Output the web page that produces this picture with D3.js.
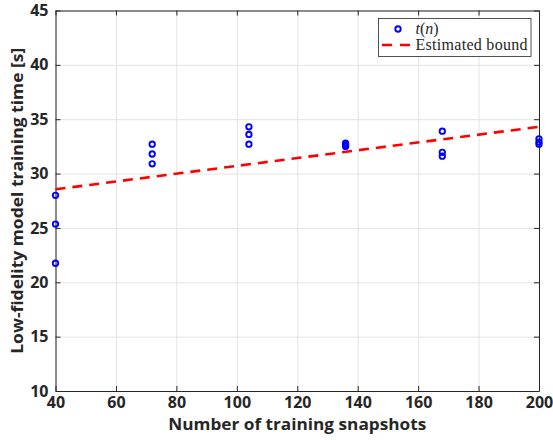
<!DOCTYPE html>
<html>
<head>
<meta charset="utf-8">
<script src="https://cdn.jsdelivr.net/npm/d3@7"></script>
<style>
  body { margin: 0; background: #fff; }
  svg text { font-family: "Open Sans", "Noto Sans", sans-serif; }
</style>
</head>
<body>
<div id="chart"></div>
<script>
// snapshot counts and the three training runs measured at each
const snapshots = [40, 72, 104, 136, 168, 200];
const runTimes = [
  [28.0, 25.35, 21.75],
  [32.7, 31.8, 30.9],
  [34.3, 33.6, 32.7],
  [32.8, 32.65, 32.5],
  [33.9, 31.95, 31.6],
  [33.2, 32.9, 32.7]
];
const boundX = [40, 200];
const boundY = [28.55, 34.3];
const xTicks = [40, 60, 80, 100, 120, 140, 160, 180, 200];
const yTicks = [10, 15, 20, 25, 30, 35, 40, 45];

const W = 553, H = 440;
const margin = { top: 10.5, right: 14, bottom: 49, left: 55.5 };
const plotW = W - margin.left - margin.right;
const plotH = H - margin.top - margin.bottom;
const AXIS = "#262626";
const FS = "16px";

const svg = d3.select("#chart").append("svg")
  .attr("width", W).attr("height", H);
const g = svg.append("g")
  .attr("transform", "translate(" + margin.left + "," + margin.top + ")");

const x = d3.scaleLinear().domain([40, 200]).range([0, plotW]);
const y = d3.scaleLinear().domain([10, 45]).range([plotH, 0]);

// grid
g.append("g")
  .attr("transform", "translate(0," + plotH + ")")
  .call(d3.axisBottom(x).tickValues(xTicks).tickSize(-plotH).tickFormat(""))
  .call(s => s.select(".domain").remove())
  .selectAll("line").attr("stroke", "#e3e3e3");
g.append("g")
  .call(d3.axisLeft(y).tickValues(yTicks).tickSize(-plotW).tickFormat(""))
  .call(s => s.select(".domain").remove())
  .selectAll("line").attr("stroke", "#e3e3e3");

// axes, MATLAB style: ticks inside, box on
function styleAxis(s) {
  s.select(".domain").attr("stroke", AXIS).attr("stroke-width", 1);
  s.selectAll(".tick line").attr("stroke", AXIS);
  s.selectAll(".tick text")
    .attr("fill", AXIS)
    .style("font-size", FS)
    .style("font-weight", "bold");
}
g.append("g")
  .attr("transform", "translate(0," + plotH + ")")
  .call(d3.axisBottom(x).tickValues(xTicks).tickSizeInner(-5).tickSizeOuter(0).tickPadding(6))
  .call(styleAxis);
g.append("g")
  .call(d3.axisLeft(y).tickValues(yTicks).tickSizeInner(-5).tickSizeOuter(0).tickPadding(7))
  .call(styleAxis);
g.append("g")
  .call(d3.axisTop(x).tickValues(xTicks).tickSizeInner(-5).tickSizeOuter(0).tickFormat(""))
  .call(styleAxis);
g.append("g")
  .attr("transform", "translate(" + plotW + ",0)")
  .call(d3.axisRight(y).tickValues(yTicks).tickSizeInner(-5).tickSizeOuter(0).tickFormat(""))
  .call(styleAxis);

// estimated bound
const line = d3.line().x(d => x(d[0])).y(d => y(d[1]));
g.append("path")
  .datum(d3.zip(boundX, boundY))
  .attr("d", line)
  .attr("fill", "none")
  .attr("stroke", "#ff0000")
  .attr("stroke-width", 2.6)
  .attr("stroke-dasharray", "10,7");

// measured times
const pts = [];
snapshots.forEach((n, i) => runTimes[i].forEach(t => pts.push({ n, t })));
g.selectAll("circle.pt")
  .data(pts)
  .enter()
  .append("circle")
  .attr("class", "pt")
  .attr("cx", d => x(d.n))
  .attr("cy", d => y(d.t))
  .attr("r", 2.7)
  .attr("fill", "none")
  .attr("stroke", "#0000ff")
  .attr("stroke-width", 1.9);

// axis titles (stretched a bit to the width of the original font)
svg.append("text")
  .attr("x", margin.left + plotW / 2)
  .attr("y", 430)
  .attr("text-anchor", "middle")
  .attr("fill", AXIS)
  .style("font-size", FS)
  .style("font-weight", "bold")
  .attr("textLength", 258)
  .attr("lengthAdjust", "spacingAndGlyphs")
  .text("Number of training snapshots");
svg.append("text")
  .attr("transform", "translate(23," + (margin.top + plotH / 2) + ") rotate(-90)")
  .attr("text-anchor", "middle")
  .attr("fill", AXIS)
  .style("font-size", FS)
  .style("font-weight", "bold")
  .attr("textLength", 306)
  .attr("lengthAdjust", "spacingAndGlyphs")
  .text("Low-fidelity model training time [s]");

// legend
const lg = svg.append("g").attr("transform", "translate(378.5,18.5)");
lg.append("rect")
  .attr("width", 152.5).attr("height", 38)
  .attr("fill", "#fff").attr("stroke", AXIS).attr("stroke-width", 0.8);
lg.append("circle")
  .attr("cx", 19.5).attr("cy", 10.5).attr("r", 2.7)
  .attr("fill", "none").attr("stroke", "#0000ff").attr("stroke-width", 1.9);
lg.append("line")
  .attr("x1", 3.5).attr("x2", 32).attr("y1", 26.5).attr("y2", 26.5)
  .attr("stroke", "#ff0000").attr("stroke-width", 2.6).attr("stroke-dasharray", "10,8");
const serif = "'Liberation Serif', 'Times New Roman', serif";
lg.append("text").attr("x", 37).attr("y", 15.5)
  .style("font-family", serif).style("font-size", "16px").attr("fill", AXIS)
  .html('<tspan font-style="italic">t</tspan>(<tspan font-style="italic">n</tspan>)');
lg.append("text").attr("x", 37).attr("y", 31.5)
  .style("font-family", serif).style("font-size", "16px").attr("fill", AXIS)
  .attr("textLength", 112).attr("lengthAdjust", "spacing")
  .text("Estimated bound");
</script>
</body>
</html>
